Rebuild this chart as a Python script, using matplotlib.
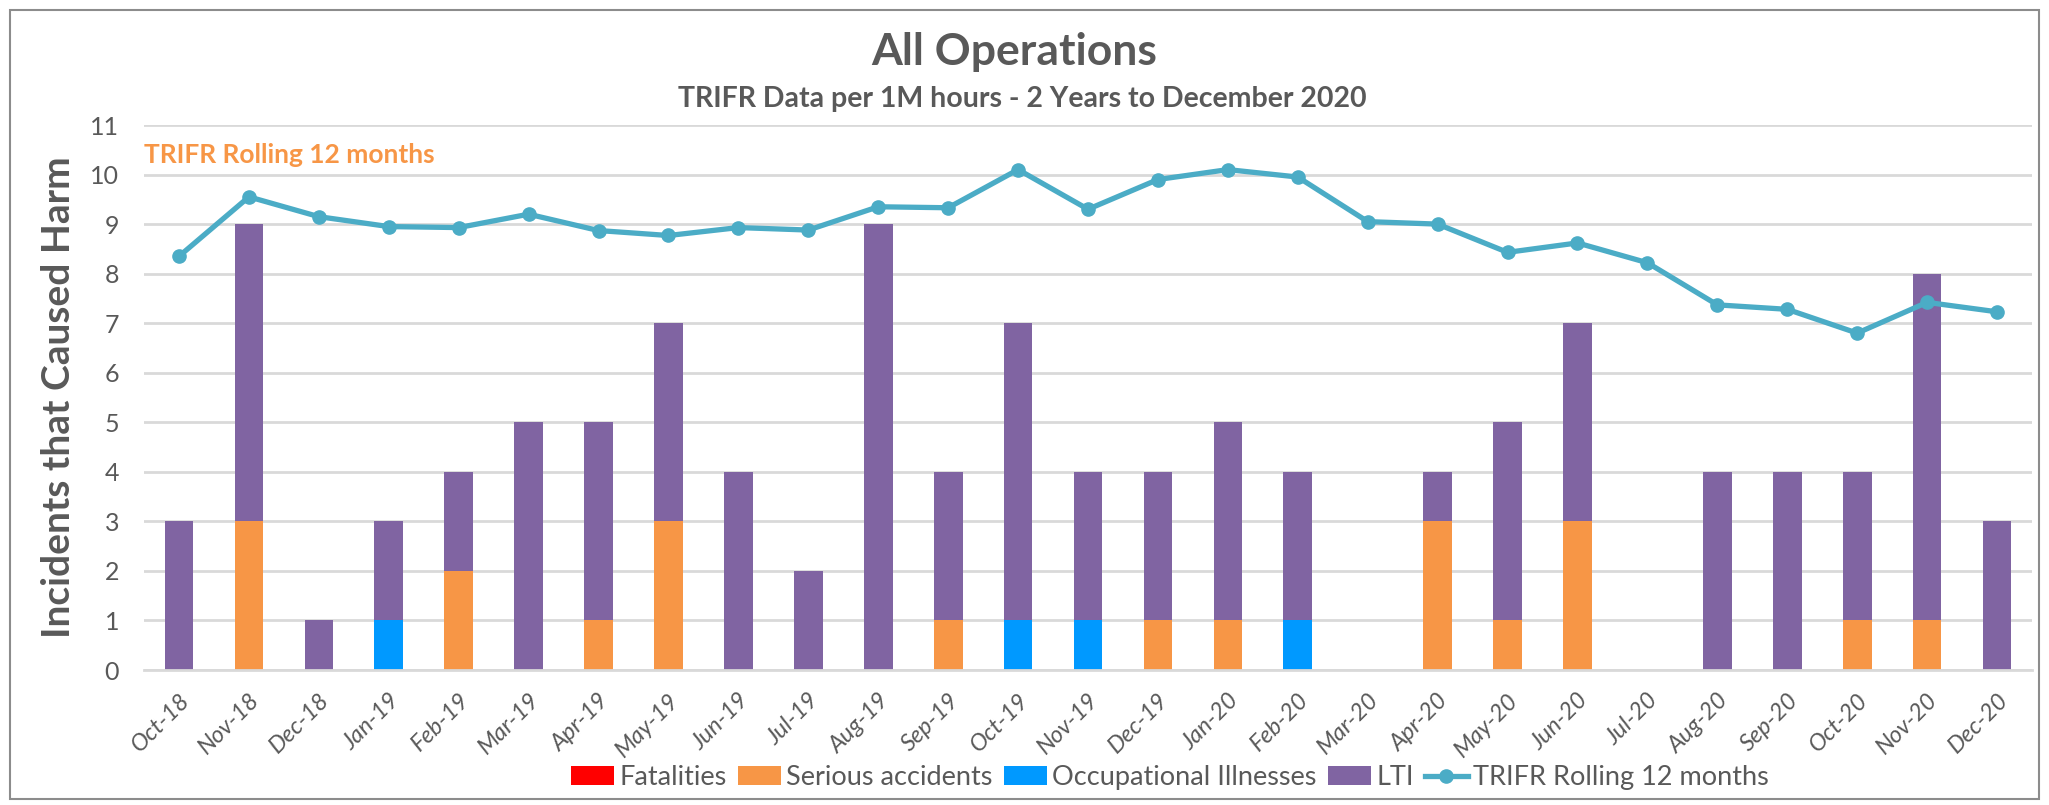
import numpy as np
import matplotlib
matplotlib.use("Agg")
import matplotlib.pyplot as plt
from matplotlib.patches import Rectangle

plt.rcParams["font.family"] = ["Lato", "DejaVu Sans"]

MONTHS = ["Oct-18", "Nov-18", "Dec-18", "Jan-19", "Feb-19", "Mar-19", "Apr-19",
          "May-19", "Jun-19", "Jul-19", "Aug-19", "Sep-19", "Oct-19", "Nov-19",
          "Dec-19", "Jan-20", "Feb-20", "Mar-20", "Apr-20", "May-20", "Jun-20",
          "Jul-20", "Aug-20", "Sep-20", "Oct-20", "Nov-20", "Dec-20"]
FATALITIES = [0] * 27
SERIOUS = [0, 3, 0, 0, 2, 0, 1, 3, 0, 0, 0, 1, 0, 0, 1, 1, 0, 0, 3, 1, 3, 0, 0, 0, 1, 1, 0]
OCCUPATIONAL = [0, 0, 0, 1, 0, 0, 0, 0, 0, 0, 0, 0, 1, 1, 0, 0, 1, 0, 0, 0, 0, 0, 0, 0, 0, 0, 0]
LTI = [3, 6, 1, 2, 2, 5, 4, 4, 4, 2, 9, 3, 6, 3, 3, 4, 3, 0, 1, 4, 4, 0, 4, 4, 3, 7, 3]
TRIFR = [8.35, 9.55, 9.15, 8.95, 8.93, 9.2, 8.87, 8.77, 8.93, 8.88, 9.35, 9.33,
         10.1, 9.3, 9.9, 10.1, 9.95, 9.05, 9.0, 8.43, 8.62, 8.22, 7.37, 7.28,
         6.8, 7.42, 7.23]

TXT = "#595959"
SERIES = [  # (values, label, color)
    (FATALITIES, "Fatalities", "#FF0000"),
    (SERIOUS, "Serious accidents", "#F79646"),
    (OCCUPATIONAL, "Occupational Illnesses", "#0099FF"),
    (LTI, "LTI", "#8064A2"),
]

fig = plt.figure(figsize=(20.49, 8.05), dpi=100)
ax = fig.add_axes([0.0703, 0.1677, 0.9214, 0.677])
x = np.arange(len(MONTHS))
bottom = np.zeros(len(MONTHS))
for vals, lab, color in SERIES:
    v = np.array(vals, dtype=float)
    ax.bar(x, v, 0.41, bottom=bottom, color=color, label=lab, zorder=2)
    bottom += v
ax.plot(x, TRIFR, color="#4BACC6", lw=3.8, marker="o", ms=9.5,
        label="TRIFR Rolling 12 months", zorder=3)

ax.set_xlim(-0.5, len(MONTHS) - 0.5)
ax.set_ylim(0, 11)
ax.set_yticks(range(0, 12))
ax.tick_params(axis="y", length=0, labelsize=18, colors=TXT, pad=18)
ax.set_xticks(x, MONTHS, rotation=45, ha="right", rotation_mode="anchor",
              fontsize=17, color=TXT, style="italic")
ax.tick_params(axis="x", length=0, pad=14)
ax.grid(axis="y", color="#D9D9D9", lw=2, zorder=0)
ax.set_axisbelow(True)
for sp in ("top", "right", "left"):
    ax.spines[sp].set_visible(False)
ax.spines["bottom"].set_color("#D9D9D9")
ax.spines["bottom"].set_linewidth(2)
ax.set_ylabel("Incidents that Caused Harm", fontsize=28, fontweight="bold",
              color=TXT, labelpad=10)

ax.text(-0.5, 10.4, "TRIFR Rolling 12 months", color="#F79646",
        fontsize=19, fontweight="bold", va="center", ha="left")

fig.text(0.495, 0.935, "All Operations", ha="center", va="center",
         fontsize=32, fontweight="bold", color=TXT)
fig.text(0.499, 0.877, "TRIFR Data per 1M hours - 2 Years to December 2020",
         ha="center", va="center", fontsize=20.5, fontweight="bold", color=TXT)

handles, labels = ax.get_legend_handles_labels()
handles = handles[1:] + handles[:1]
labels = labels[1:] + labels[:1]
fig.legend(handles, labels, loc="center", bbox_to_anchor=(0.571, 0.034), ncols=5,
           frameon=False, fontsize=19.5, labelcolor=TXT, handlelength=1.6,
           handletextpad=0.2, columnspacing=0.4)

fig.patches.append(Rectangle((0.005, 0.008), 0.99, 0.98, transform=fig.transFigure,
                             fill=False, edgecolor="#8C8C8C", lw=1.5))

fig.savefig("out.png", dpi=100)
